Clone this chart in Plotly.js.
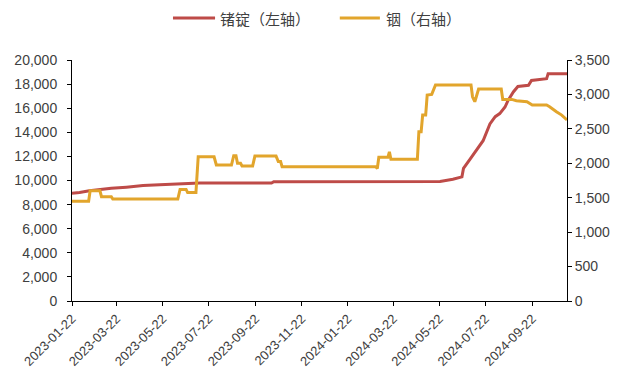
<!DOCTYPE html>
<html>
<head>
<meta charset="utf-8">
<script src="https://cdn.plot.ly/plotly-3.0.1.min.js"></script>
<style>html,body{margin:0;padding:0;background:#fff;}#chart{width:617px;height:372px;}</style>
</head>
<body>
<div id="chart"></div>
<script>
// 锗锭 (left axis)
var geDates = ["2023-01-22","2023-02-01","2023-02-14","2023-02-28","2023-03-15","2023-04-04","2023-04-26","2023-05-18","2023-06-11","2023-07-10","2023-10-13","2023-10-16","2024-05-23","2024-06-02","2024-06-09","2024-06-21","2024-06-23","2024-07-02","2024-07-10","2024-07-19","2024-07-28","2024-08-04","2024-08-10","2024-08-17","2024-08-21","2024-08-28","2024-09-03","2024-09-17","2024-09-21","2024-10-11","2024-10-13","2024-11-07"];
var geValues = [8950,9000,9150,9270,9350,9450,9580,9640,9700,9790,9790,9900,9920,10000,10100,10300,11000,11800,12500,13300,14700,15300,15550,16100,16650,17350,17800,17900,18300,18450,18850,18850];

// 铟 (right axis)
var inDates = ["2023-01-22","2023-02-13","2023-02-15","2023-02-28","2023-03-02","2023-03-15","2023-03-17","2023-06-11","2023-06-14","2023-06-22","2023-06-24","2023-07-05","2023-07-08","2023-07-29","2023-08-01","2023-08-21","2023-08-24","2023-08-27","2023-08-29","2023-09-02","2023-09-04","2023-09-18","2023-09-21","2023-10-19","2023-10-22","2023-10-25","2023-10-27","2024-02-28","2024-03-01","2024-03-03","2024-03-15","2024-03-17","2024-03-19","2024-04-23","2024-04-25","2024-04-28","2024-04-30","2024-05-04","2024-05-06","2024-05-12","2024-05-17","2024-07-03","2024-07-05","2024-07-08","2024-07-10","2024-07-13","2024-08-12","2024-08-14","2024-08-26","2024-09-01","2024-09-15","2024-09-22","2024-10-11","2024-10-15","2024-10-24","2024-10-31","2024-11-07"];
var inValues = [1450,1450,1600,1600,1515,1515,1480,1480,1620,1620,1575,1575,2095,2095,1975,1975,2110,2110,2000,2000,1960,1960,2105,2105,2025,2025,1950,1950,1925,2087,2087,2165,2057,2057,2458,2458,2700,2700,2990,3000,3136,3136,2966,2894,2966,3078,3078,2928,2928,2908,2894,2846,2846,2821,2749,2700,2630];

var xTicks = ["2023-01-22","2023-03-22","2023-05-22","2023-07-22","2023-09-22","2023-11-22","2024-01-22","2024-03-22","2024-05-22","2024-07-22","2024-09-22"];
var leftTicks = [0,2000,4000,6000,8000,10000,12000,14000,16000,18000,20000];
var rightTicks = [0,500,1000,1500,2000,2500,3000,3500];
var seriesNames = ["锗锭（左轴）", "铟（右轴）"];
var seriesColors = ["#BE4B48", "#E2A52C"];

var traces = [
  {x: geDates, y: geValues, name: seriesNames[0], type: "scatter", mode: "lines",
   line: {color: seriesColors[0], width: 3}, yaxis: "y"},
  {x: inDates, y: inValues, name: seriesNames[1], type: "scatter", mode: "lines",
   line: {color: seriesColors[1], width: 3}, yaxis: "y2"}
];

var tickFont = {family: "Liberation Sans, Arial, sans-serif", size: 14, color: "#404040"};
var xTickFont = {family: "Liberation Sans, Arial, sans-serif", size: 13, color: "#404040"};
var legFont = {family: "Noto Sans CJK SC, sans-serif", size: 15, color: "#404040"};

// custom legend (paper coords; plot spans x 72..567, y 60..301)
var legY = 1.174;
var shapes = [
  {type: "line", xref: "paper", yref: "paper", x0: 0.204, x1: 0.289, y0: legY, y1: legY,
   line: {color: seriesColors[0], width: 3}},
  {type: "line", xref: "paper", yref: "paper", x0: 0.541, x1: 0.622, y0: legY, y1: legY,
   line: {color: seriesColors[1], width: 3}}
];
var annotations = [
  {xref: "paper", yref: "paper", x: 0.295, y: legY, xanchor: "left", yanchor: "middle",
   text: seriesNames[0], showarrow: false, font: legFont},
  {xref: "paper", yref: "paper", x: 0.630, y: legY, xanchor: "left", yanchor: "middle",
   text: seriesNames[1], showarrow: false, font: legFont}
];

var layout = {
  width: 617, height: 372,
  margin: {l: 72, r: 50, t: 60, b: 71, autoexpand: false},
  paper_bgcolor: "#fff", plot_bgcolor: "#fff",
  showlegend: false,
  shapes: shapes, annotations: annotations,
  xaxis: {type: "date", range: ["2023-01-22", "2024-11-07"], tickvals: xTicks, tickformat: "%Y-%m-%d",
          tickangle: -45, ticks: "outside", ticklen: 4, tickcolor: "#000", showline: true, linecolor: "#000",
          linewidth: 1, showgrid: false, zeroline: false, tickfont: xTickFont, automargin: false},
  yaxis: {range: [0, 20000], tickvals: leftTicks, tickformat: ",d", ticks: "outside", ticklen: 4,
          ticklabelstandoff: 7, automargin: false,
          tickcolor: "#000", showline: true, linecolor: "#000", showgrid: false, zeroline: false, tickfont: tickFont},
  yaxis2: {range: [0, 3500], tickvals: rightTicks, tickformat: ",d", overlaying: "y", side: "right",
           ticks: "outside", ticklen: 4, tickcolor: "#000", showline: true, linecolor: "#000", automargin: false,
           showgrid: false, zeroline: false, tickfont: tickFont}
};

Plotly.newPlot("chart", traces, layout, {displayModeBar: false, staticPlot: true});
</script>
</body>
</html>
